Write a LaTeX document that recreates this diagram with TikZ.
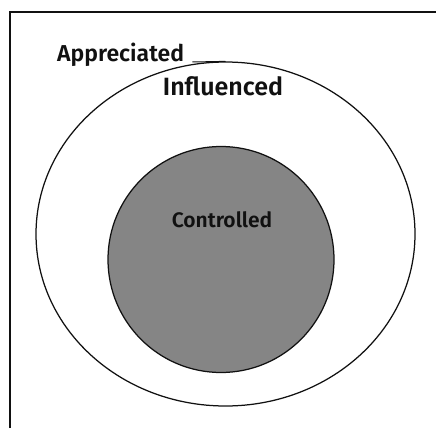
\documentclass[tikz,border=0pt]{standalone}
\usepackage{fontspec}
\setmainfont{Fira Sans}[BoldFont={Fira Sans SemiBold}]
\usepackage{tikz}
\usetikzlibrary{shapes.geometric,positioning}
\definecolor{ringink}{HTML}{111111}
\definecolor{coreshade}{HTML}{858585}

\begin{document}
\begin{tikzpicture}[x=1pt,y=-1pt,
  ring/.style={draw=ringink,line width=1.25pt,inner sep=0pt},
  tag/.style={font=\bfseries\fontsize{23}{26}\selectfont,text=ringink,inner sep=0pt}
]
  \useasboundingbox (0,0) rectangle (436,428);
  \draw[ringink,line width=1.2pt] (10,428) -- (10,12) -- (436,12);

  \node[ring,ellipse,minimum width=379pt,minimum height=344pt] (outer) at (225.5,234) {};
  \node[ring,circle,fill=coreshade,minimum size=226pt] (core) at (221,259.5) {};

  \node[tag,anchor=base west] (appreciated) at (57,62) {Appreciated};
  \node[tag,anchor=base,font=\bfseries\fontsize{25}{28}\selectfont] (influenced) at (223,95) {Influenced};
  \node[tag,anchor=base,font=\bfseries\fontsize{21}{24}\selectfont] (controlled) at (222,227) {Controlled};

  \draw[ringink,line width=1pt] ([xshift=8pt]appreciated.base east) -- (outer.north);
\end{tikzpicture}
\end{document}
